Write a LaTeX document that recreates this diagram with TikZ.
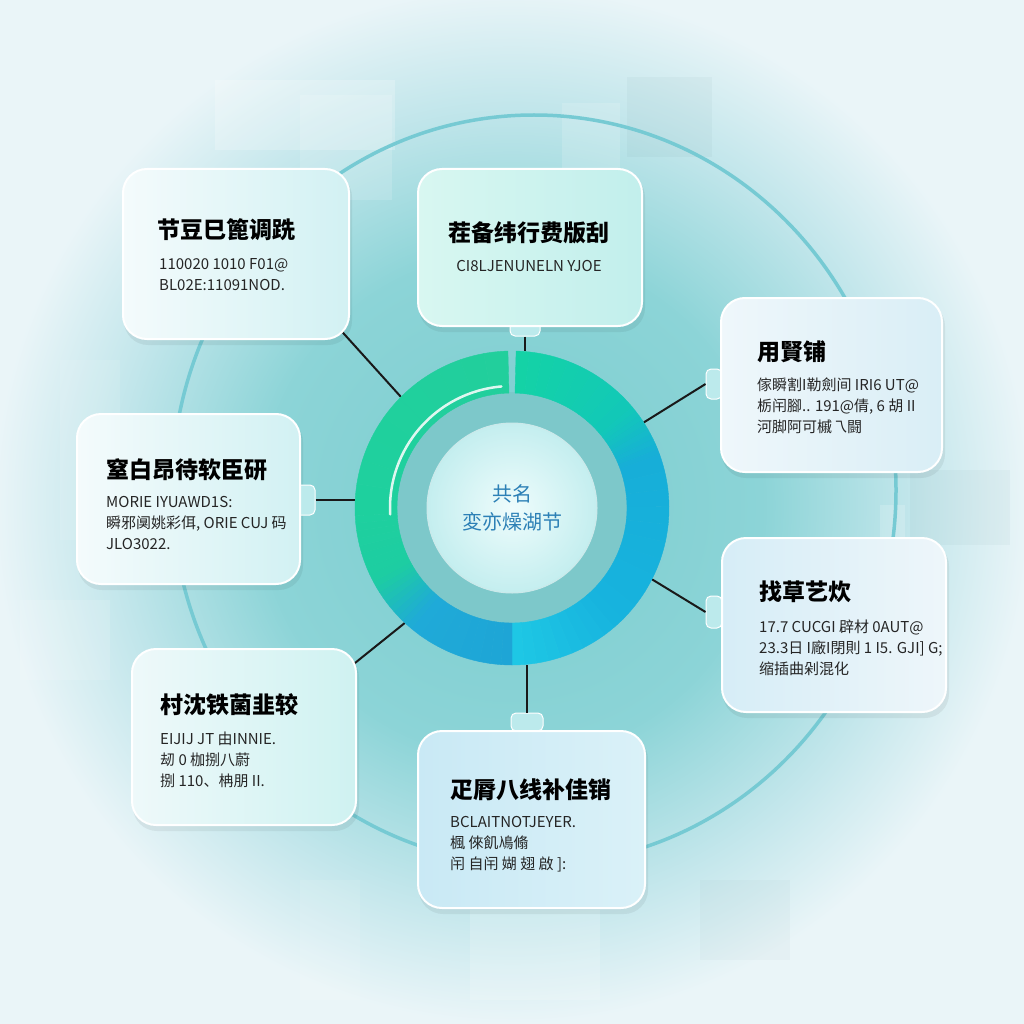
\documentclass[tikz,border=0pt]{standalone}
\usepackage{fontspec}
\setmainfont{Noto Sans CJK SC}
\newfontfamily\cjk{Noto Sans CJK SC}
\usetikzlibrary{calc}
\definecolor{bgA}{HTML}{7BCDCF}
\definecolor{bgB}{HTML}{8CD4D7}
\definecolor{bgC}{HTML}{C2E6EB}
\definecolor{bgD}{HTML}{EAF5F8}
\definecolor{bigring}{HTML}{76CAD3}
\definecolor{annul}{HTML}{7DC8CA}
\definecolor{gA}{HTML}{14D3A5}
\definecolor{gB}{HTML}{12C8B8}
\definecolor{bA}{HTML}{17AED8}
\definecolor{bB}{HTML}{17B3DE}
\definecolor{cA}{HTML}{1EC8E5}
\definecolor{bC}{HTML}{1EA5D6}
\definecolor{bD}{HTML}{1FAAD8}
\definecolor{gC}{HTML}{1DCDA2}
\definecolor{gD}{HTML}{1ED09E}
\definecolor{gE}{HTML}{22CF9C}
\definecolor{inA}{HTML}{EEFCFC}
\definecolor{inB}{HTML}{C4EEEF}
\definecolor{ctext}{HTML}{2C80B6}
\definecolor{bodyc}{HTML}{252525}
\definecolor{tabc}{HTML}{BCEAEC}
\definecolor{w1}{HTML}{F4FBFC}
\definecolor{c1}{HTML}{D2F1F3}
\definecolor{m1}{HTML}{D8F7F1}
\definecolor{m2}{HTML}{C2EFEC}
\definecolor{l1}{HTML}{EFF7FB}
\definecolor{l2}{HTML}{D9EEF6}
\definecolor{l3}{HTML}{D6EDF7}
\definecolor{l4}{HTML}{EEF6FA}
\definecolor{s1}{HTML}{EEF9FA}
\definecolor{s2}{HTML}{CFF2F1}
\definecolor{u1}{HTML}{C9E9F5}
\definecolor{u2}{HTML}{DAF1F8}
\pgfdeclareradialshading{bgsh}{\pgfpoint{0bp}{0bp}}{color(0bp)=(bgA); color(11.6bp)=(bgB); color(18.5bp)=(bgC); color(24bp)=(bgD); color(50bp)=(bgD)}
\pgfdeclarelayer{back}
\pgfdeclarelayer{mid}
\pgfsetlayers{back,mid,main}
\begin{document}
\begin{tikzpicture}[x=1pt,y=-1pt,
  box/.style={draw=white, line width=2pt, rounded corners=24pt, inner sep=0pt, anchor=north west},
  tabbox/.style={fill=tabc, draw=white, line width=1pt, rounded corners=5pt, inner sep=0pt},
  ttl/.style={font=\cjk\bfseries\fontsize{23}{26}\selectfont, text=black, inner sep=0pt, anchor=west},
  bdy/.style={font=\cjk\fontsize{15}{21}\selectfont, text=bodyc, inner sep=0pt, align=left, anchor=north west},
  conn/.style={line width=2pt, draw=black!90},
  shadowbox/.style={fill=black, opacity=.06, rounded corners=24pt},
  faint/.style={fill=white, opacity=.22}]
\useasboundingbox (0,0) rectangle (1024,1024);

% ---------- background ----------
\begin{pgfonlayer}{back}
  \fill[bgD] (0,0) rectangle (1024,1024);
  \shade[shading=bgsh] (512,505) circle (540);
  \fill[faint] (215,80) rectangle (395,150);
  \fill[faint, opacity=.15] (300,95) rectangle (392,200);
  \fill[faint, opacity=.15] (562,103) rectangle (620,175);
  \fill[black!40!bgB, opacity=.05] (627,77) rectangle (712,157);
  \fill[black!40!bgB, opacity=.05] (910,470) rectangle (1010,545);
  \fill[faint, opacity=.18] (880,505) rectangle (905,540);
  \fill[faint, opacity=.14] (20,600) rectangle (110,680);
  \fill[faint, opacity=.10] (60,360) rectangle (120,540);
  \fill[faint, opacity=.18] (470,910) rectangle (600,1000);
  \fill[faint, opacity=.10] (300,880) rectangle (360,1000);
  \fill[black!40!bgB, opacity=.04] (700,880) rectangle (790,960);
  \draw[bigring, line width=3.5pt] (534,490) ellipse (362 and 375);
\end{pgfonlayer}

% ---------- central donut ----------
\fill[annul] (512,508) circle (116);
\begin{scope}[shift={(512,508)}]
  \foreach \a/\b/\ca/\cb in {-88.5/-40/gA/gB, -40/-20/gB/bA, -20/45/bA/bB, 45/90/bB/cA, 90/130/bC/bD, 130/152/bD/gC, 152/180/gC/gD, 180/268.5/gD/gE}{
    \foreach \i in {0,...,9}{
      \pgfmathsetmacro\s{\a+(\b-\a)*\i/10}
      \pgfmathsetmacro\e{\a+(\b-\a)*(\i+1)/10}
      \pgfmathtruncatemacro\p{\i*10+5}
      \fill[\cb!\p!\ca, draw=\cb!\p!\ca, line width=0.4pt]
        (\s:157) arc[start angle=\s, end angle=\e, radius=157]
        -- (\e:115) arc[start angle=\e, end angle=\s, radius=115] -- cycle;
    }
  }
  \draw[white, line width=2.5pt, opacity=.85, line cap=round] (177:122) arc[start angle=177, end angle=265, radius=122];
\end{scope}
\shade[inner color=inA, outer color=inB] (512,508) circle (85);
\draw[white!60!annul, line width=1pt] (512,508) circle (85);
\node[circle, minimum size=314pt, inner sep=0pt] (ring) at (512,508) {};
\node[align=center, font=\cjk\fontsize{20}{28}\selectfont, text=ctext, inner sep=0pt] (center) at (512,508) {共名\\変亦燥湖节};

% ---------- boxes ----------
\node[box, minimum width=226pt, minimum height=170pt, left color=w1, right color=c1] (b1) at (122,168) {};
\node[box, minimum width=224pt, minimum height=157pt, left color=m1, right color=m2] (b2) at (417,168) {};
\node[box, minimum width=221pt, minimum height=174pt, left color=l1, right color=l2] (b3) at (720,297) {};
\node[box, minimum width=223pt, minimum height=170pt, left color=w1, right color=c1] (b4) at (76,413) {};
\node[box, minimum width=224pt, minimum height=174pt, left color=l3, right color=l4] (b5) at (721,537) {};
\node[box, minimum width=224pt, minimum height=176pt, left color=s1, right color=s2] (b6) at (131,648) {};
\node[box, minimum width=227pt, minimum height=177pt, left color=u1, right color=u2] (b7) at (417,730) {};

% ---------- texts ----------
\node[ttl] (h1) at (157,230) {节豆巳篦调跣};
\node[bdy] (d1) at (159,258) {110020 1010 F01@\\BL02E:11091NOD.};
\node[ttl, anchor=center] (h2) at (529,233) {茬备纬行费版刮};
\node[bdy, anchor=north] (d2) at (529,260) {CI8LJENUNELN YJOE};
\node[ttl] (h3) at (757,352) {用賢铺};
\node[bdy] (d3) at (757,378) {傢瞬割I勒劍间 IRI6 UT@\\栃闬腳.. 191@倩, 6 胡 II\\河脚阿可槭乁闘};
\node[ttl] (h4) at (106,470) {窒白昂待软臣研};
\node[bdy] (d4) at (106,496) {MORIE IYUAWD1S:\\瞬邪阒姚彩佴, ORIE CUJ 码\\JLO3022.};
\node[ttl] (h5) at (759,592) {找草艺炊};
\node[bdy] (d5) at (759,620) {17.7 CUCGI 辟材 0AUT@\\23.3日 I廠I閉則 1 I5. GJI] G;\\缩插曲剁混化};
\node[ttl] (h6) at (160,705) {村沈铁菌韭较};
\node[bdy] (d6) at (160,732) {EIJIJ JT 由INNIE.\\刼 0 枷捌八蔚\\捌 110、柟朋 II.};
\node[ttl] (h7) at (450,790) {疋脣八线补佳销};
\node[bdy] (d7) at (450,816) {BCLAITNOTJEYER.\\楓 倈飢鳰翛\\闬 自闬 媩 翅 啟 ]:};

% ---------- tabs, shadows and connectors ----------
\begin{pgfonlayer}{mid}
  \foreach \b in {b1,b2,b3,b4,b5,b6,b7}{
    \fill[shadowbox] ($(\b.north west)+(2,5)$) rectangle ($(\b.south east)+(2,5)$);
  }
  \node[tabbox, minimum width=30pt, minimum height=16pt] (tab2) at (525,328) {};
  \node[tabbox, minimum width=16pt, minimum height=30pt] (tab3) at (714,384) {};
  \node[tabbox, minimum width=20pt, minimum height=30pt] (tab4) at (305,500) {};
  \node[tabbox, minimum width=16pt, minimum height=32pt] (tab5) at (714,612) {};
  \node[tabbox, minimum width=32pt, minimum height=18pt] (tab7) at (527,722) {};
  \coordinate (k1) at (336,325);
  \coordinate (k6) at (350,667);
  \draw[conn] (k1) -- (ring.135);
  \draw[conn] (tab2.south) -- (ring.north -| tab2);
  \draw[conn] (tab3.west) -- (ring.33);
  \draw[conn] (tab4.east) -- (ring.west |- tab4);
  \draw[conn] (tab5.west) -- (ring.-27);
  \draw[conn] (k6) -- (ring.227);
  \draw[conn] (tab7.north) -- (ring.south -| tab7);
\end{pgfonlayer}
\end{tikzpicture}
\end{document}
